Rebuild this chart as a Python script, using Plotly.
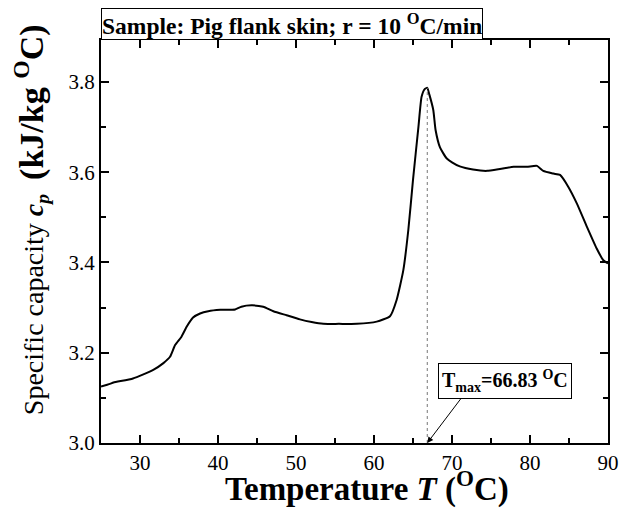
import plotly.graph_objects as go

# Data
temperature = [25.0, 26.15, 26.6, 29.1, 31.7, 33.0, 33.85, 34.5, 35.3, 36.0, 36.8, 37.7,
               38.75, 40.3, 42.2, 43.0, 44.3, 45.8, 47.1, 48.8, 50.5, 52.0, 53.5, 55.5,
               57.8, 60.35, 62.05, 62.9, 63.76, 64.4, 65.0, 65.7, 66.1, 66.5, 66.83,
               67.1, 67.6, 67.9, 68.46, 69.3, 70.0, 71.0, 72.7, 74.45, 76.15, 77.9,
               79.6, 80.9, 81.7, 83.0, 83.85, 84.9, 86.0, 87.3, 88.55, 89.4, 90.0]
cp = [3.125, 3.131, 3.134, 3.143, 3.162, 3.177, 3.191, 3.217, 3.235, 3.258, 3.278, 3.287,
      3.292, 3.295, 3.296, 3.302, 3.305, 3.302, 3.292, 3.283, 3.274, 3.268, 3.264, 3.264,
      3.264, 3.269, 3.281, 3.317, 3.383, 3.472, 3.583, 3.701, 3.767, 3.784, 3.787,
      3.772, 3.738, 3.693, 3.655, 3.631, 3.622, 3.613, 3.606, 3.603, 3.607, 3.612,
      3.612, 3.614, 3.603, 3.597, 3.594, 3.568, 3.531, 3.479, 3.431, 3.405, 3.398]
t_max = 66.83
cp_peak = 3.787
x_range = [25, 90]
y_range = [3.0, 3.893]
x_ticks = [30, 40, 50, 60, 70, 80, 90]
y_ticks = [3.0, 3.2, 3.4, 3.6, 3.8]
arrow_tail = [71.3, 3.102]

FONT = "Liberation Serif"

fig = go.Figure()
fig.add_trace(go.Scatter(x=temperature, y=cp, mode="lines",
                         line=dict(color="black", width=2, shape="spline", smoothing=0.5),
                         showlegend=False))
fig.add_trace(go.Scatter(x=[t_max, t_max], y=[y_range[0], cp_peak], mode="lines",
                         line=dict(color="#777777", width=1, dash="dot"), showlegend=False))

axis_common = dict(
    showline=True, linecolor="black", linewidth=2, mirror="ticks",
    ticks="inside", ticklen=8, tickwidth=1.5, tickcolor="black",
    showgrid=False, zeroline=False, automargin=False,
    tickfont=dict(family=FONT, size=21, color="black"),
)
fig.update_xaxes(range=x_range, tickvals=x_ticks,
                 minor=dict(dtick=5, tick0=25, ticks="inside", ticklen=5, tickwidth=1.5, tickcolor="black"),
                 **axis_common)
fig.update_yaxes(range=y_range, tickvals=y_ticks, tickformat=".1f",
                 minor=dict(dtick=0.1, tick0=3.0, ticks="inside", ticklen=5, tickwidth=1.5, tickcolor="black"),
                 **axis_common)

fig.add_annotation(xref="paper", yref="paper", x=0, y=1, xanchor="left", yanchor="bottom",
                   text="<b>Sample: Pig flank skin; r = 10 <sup>O</sup>C/min</b>",
                   showarrow=False, font=dict(family=FONT, size=23.5, color="black"),
                   bordercolor="black", borderwidth=1, borderpad=0, bgcolor="white")

fig.add_annotation(xref="x", yref="y", x=68.2, y=3.177, xanchor="left", yanchor="top",
                   text="<b>T<sub>max</sub>=66.83 <sup>O</sup>C</b>",
                   showarrow=False, font=dict(family=FONT, size=20, color="black"),
                   bordercolor="black", borderwidth=1, borderpad=3, bgcolor="white")

fig.add_annotation(xref="x", yref="y", x=t_max, y=y_range[0],
                   axref="x", ayref="y", ax=arrow_tail[0], ay=arrow_tail[1],
                   text="", showarrow=True, arrowhead=2, arrowsize=1.2, arrowwidth=1,
                   arrowcolor="black")

fig.add_annotation(xref="paper", yref="paper", x=0.525, y=-0.108,
                   xanchor="center", yanchor="middle",
                   text="<b>Temperature <i>T</i> (<sup>O</sup>C)</b>",
                   showarrow=False, font=dict(family=FONT, size=33, color="black"))

fig.add_annotation(xref="paper", yref="paper", x=-0.14, y=0.553, textangle=-90,
                   xanchor="center", yanchor="middle",
                   text=("Specific capacity <b><i>c</i><sub><i>p</i></sub></b>  "
                         "<span style='font-size:34px'><b>(kJ/kg <sup>O</sup>C)</b></span>"),
                   showarrow=False, font=dict(family=FONT, size=28, color="black"))

fig.update_layout(
    width=623, height=508,
    margin=dict(l=101, r=15, t=40, b=65, autoexpand=False),
    paper_bgcolor="white", plot_bgcolor="white",
)

fig.write_html("out.html", config={"displayModeBar": False},
               post_script="document.body.style.margin='0';document.body.style.padding='0';")
